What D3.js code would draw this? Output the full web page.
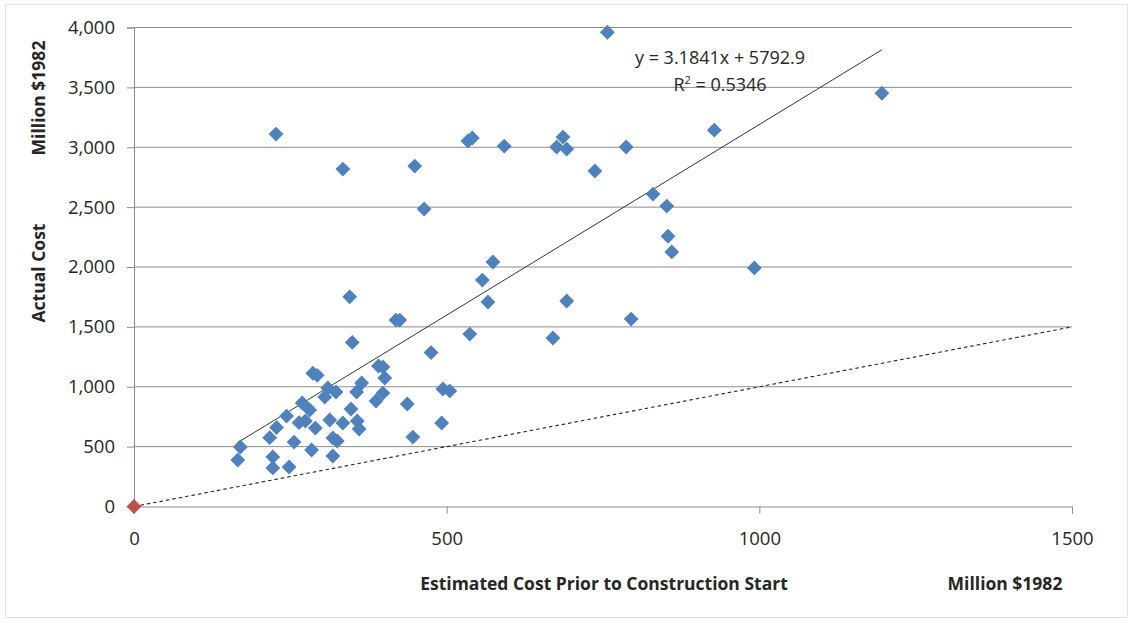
<!DOCTYPE html>
<html>
<head>
    <meta charset="utf-8">
    <title>Estimated vs Actual Cost</title>
    <style>
        body { margin: 0; background: #ffffff; }
        svg text { font-family: "Open Sans", "Noto Sans", sans-serif; fill: #262626; }
        .tick-label { font-size: 18.5px; }
        .axis-title { font-size: 17.5px; font-weight: bold; }
        .eq { font-size: 18px; }
    </style>
</head>
<body>
<div id="chart"></div>
<script src="https://d3js.org/d3.v7.min.js"></script>
<script>
    // estimated cost (x) and actual cost (y), million $1982
    const estimated = [166, 170, 217, 222, 222, 228, 244, 248, 256, 264, 274, 269, 281, 284, 290,
        286, 293, 310, 305, 323, 313, 318, 325, 318, 334, 347, 357, 360, 364, 356,
        391, 398, 401, 398, 387, 437, 446, 492, 494, 505, 475, 349, 345, 419, 425,
        334, 449, 464, 574, 557, 566, 537, 534, 541, 592, 676, 686, 692, 737, 692,
        787, 928, 830, 852, 854, 860, 992, 795, 1196, 757, 227, 670];
    const actual = [388, 497, 575, 414, 322, 660, 755, 330, 538, 700, 714, 864, 806, 472, 655,
        1113, 1095, 990, 914, 956, 722, 572, 547, 422, 697, 814, 714, 647, 1031, 956,
        1173, 1165, 1073, 947, 881, 856, 580, 697, 981, 965, 1285, 1370, 1751, 1557, 1557,
        2818, 2843, 2484, 2042, 1891, 1708, 1440, 3052, 3077, 3010, 3002, 3085, 2985, 2802, 1716,
        3002, 3143, 2609, 2509, 2257, 2126, 1992, 1565, 3451, 3960, 3110, 1407];
    // origin point (red)
    const origin = [0, 0];

    const yTicks = [0, 500, 1000, 1500, 2000, 2500, 3000, 3500, 4000];
    const xTicks = [0, 500, 1000, 1500];

    // linear trend shown on the chart
    const trendSlope = 3.1841;
    const trendIntercept = 5.7929;
    const equationText = "y = 3.1841x + 5792.9";

    const width = 1133, height = 623;
    const margin = {top: 27.5, right: 61, bottom: 116.5, left: 134};

    const svg = d3.select("#chart")
        .append("svg")
        .attr("width", width)
        .attr("height", height);

    // light frame round the chart
    svg.append("rect")
        .attr("x", 5.5).attr("y", 4.5)
        .attr("width", width - 11).attr("height", height - 10)
        .attr("fill", "none")
        .attr("stroke", "#e3e3e3");

    const x = d3.scaleLinear()
        .domain([0, 1500])
        .range([margin.left, width - margin.right]);
    const y = d3.scaleLinear()
        .domain([0, 4000])
        .range([height - margin.bottom, margin.top]);

    // gridlines
    svg.append("g")
        .selectAll("line")
        .data(yTicks.slice(1))
        .join("line")
        .attr("x1", x(0)).attr("x2", x(1500))
        .attr("y1", d => y(d)).attr("y2", d => y(d))
        .attr("stroke", "#8c8c8c")
        .attr("stroke-width", 1);

    // y axis
    const yAxis = svg.append("g")
        .attr("transform", `translate(${x(0)},0)`)
        .call(d3.axisLeft(y).tickValues(yTicks).tickSize(7).tickPadding(12)
            .tickFormat(d3.format(",")));
    yAxis.select(".domain").attr("stroke", "#8c8c8c");
    yAxis.selectAll(".tick line").attr("stroke", "#8c8c8c");
    yAxis.selectAll(".tick text").attr("class", "tick-label").attr("fill", "#262626");

    // x axis
    const xAxis = svg.append("g")
        .attr("transform", `translate(0,${y(0)})`)
        .call(d3.axisBottom(x).tickValues(xTicks).tickSize(7).tickPadding(18)
            .tickFormat(d3.format("d")));
    xAxis.select(".domain").attr("stroke", "#8c8c8c");
    xAxis.selectAll(".tick line").attr("stroke", "#8c8c8c");
    xAxis.selectAll(".tick text").attr("class", "tick-label").attr("fill", "#262626");

    // y = x reference line
    svg.append("line")
        .attr("x1", x(0)).attr("y1", y(0))
        .attr("x2", x(1500)).attr("y2", y(1500))
        .attr("stroke", "#222")
        .attr("stroke-width", 1.1)
        .attr("stroke-dasharray", "3.5,3");

    // trend line across the data range
    const xMin = d3.min(estimated), xMax = d3.max(estimated);
    svg.append("line")
        .attr("x1", x(xMin)).attr("y1", y(trendSlope * xMin + trendIntercept))
        .attr("x2", x(xMax)).attr("y2", y(trendSlope * xMax + trendIntercept))
        .attr("stroke", "#333")
        .attr("stroke-width", 1);

    // points as diamonds
    const diamond = d3.symbol().type(d3.symbolSquare).size(110);
    const points = estimated.map((d, i) => ({x: d, y: actual[i]}));
    svg.append("g")
        .selectAll("path")
        .data(points)
        .join("path")
        .attr("d", diamond)
        .attr("transform", d => `translate(${x(d.x)},${y(d.y)}) rotate(45)`)
        .attr("fill", "#4f81bd");

    svg.append("path")
        .attr("d", diamond)
        .attr("transform", `translate(${x(origin[0])},${y(origin[1])}) rotate(45)`)
        .attr("fill", "#c0504d");

    // trend equation
    svg.append("text")
        .attr("class", "eq")
        .attr("x", 720).attr("y", 64)
        .attr("text-anchor", "middle")
        .text(equationText);
    const r2 = svg.append("text")
        .attr("class", "eq")
        .attr("x", 720).attr("y", 91)
        .attr("text-anchor", "middle");
    r2.append("tspan").text("R");
    r2.append("tspan").attr("font-size", "11px").attr("dy", -7).text("2");
    r2.append("tspan").attr("dy", 7).text(" = 0.5346");

    // axis titles
    svg.append("text")
        .attr("class", "axis-title")
        .attr("x", 604).attr("y", 590)
        .attr("text-anchor", "middle")
        .text("Estimated Cost Prior to Construction Start");
    svg.append("text")
        .attr("class", "axis-title")
        .attr("x", 1005).attr("y", 590)
        .attr("text-anchor", "middle")
        .text("Million $1982");
    svg.append("text")
        .attr("class", "axis-title")
        .attr("transform", "translate(45,273) rotate(-90)")
        .attr("text-anchor", "middle")
        .text("Actual Cost");
    svg.append("text")
        .attr("class", "axis-title")
        .attr("transform", "translate(45,98) rotate(-90)")
        .attr("text-anchor", "middle")
        .text("Million  $1982");
</script>
</body>
</html>
